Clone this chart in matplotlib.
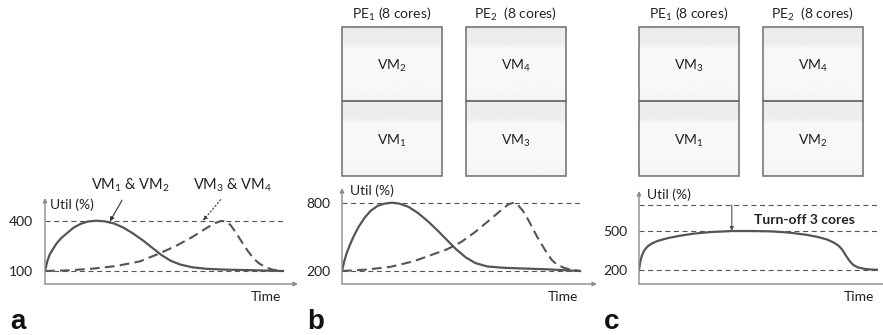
import numpy as np
import matplotlib.pyplot as plt

plt.rcParams['font.family'] = ['Lato', 'DejaVu Sans']
plt.rcParams['mathtext.fontset'] = 'custom'
plt.rcParams['mathtext.rm'] = 'Lato'
plt.rcParams['mathtext.it'] = 'Lato:italic'
plt.rcParams['mathtext.bf'] = 'Lato:bold'
plt.rcParams['lines.scale_dashes'] = False

# --- panel a: util (%) vs time (0..100) ---
a_t_solid = [0, 1, 2, 3.5, 5, 7, 9.5, 12, 15, 18, 21.5, 25, 29, 33, 37, 41, 45, 49, 53, 57, 62, 68, 76, 86, 100]
a_u_solid = [100, 160, 200, 235, 268, 300, 330, 360, 383, 397, 402, 398, 385, 360, 325, 285, 240, 195, 160, 138, 122, 113, 108, 105, 100]
a_t_dash = [0, 10, 20, 30, 40, 48, 55, 62, 67, 71, 74, 76, 78, 80, 82, 84, 86, 88, 90, 93, 96, 100]
a_u_dash = [100, 104, 114, 130, 158, 205, 250, 305, 350, 385, 400, 398, 375, 335, 290, 245, 205, 170, 145, 120, 107, 100]
a_levels = [100, 400]

# --- panel b ---
b_t_solid = [0, 1, 2, 3.5, 5, 7, 9.5, 12, 15, 18, 21, 24, 28, 32, 36, 40, 44, 48, 52, 56, 61, 68, 76, 86, 100]
b_u_solid = [200, 290, 360, 440, 510, 590, 670, 730, 775, 795, 802, 795, 765, 710, 640, 560, 475, 390, 320, 270, 240, 228, 222, 215, 200]
b_t_dash = [0, 10, 20, 30, 38, 44, 50, 56, 62, 67, 70, 72, 74, 76, 78, 80, 82, 84, 86, 88, 90, 93, 96, 100]
b_u_dash = [200, 212, 235, 285, 345, 390, 455, 545, 650, 740, 790, 800, 780, 730, 660, 580, 500, 430, 360, 300, 260, 230, 212, 200]
b_levels = [200, 800]

# --- panel c ---
c_t = [0, 0.5, 1.2, 2.2, 3.5, 5.5, 8, 12, 17, 23, 30, 39, 48, 56, 63, 70, 75, 79, 82, 84, 85.5, 87, 88.5, 90, 92, 95, 98, 100]
c_u = [200, 260, 310, 350, 380, 405, 425, 445, 463, 480, 492, 500, 500, 497, 488, 472, 455, 435, 410, 385, 355, 310, 270, 240, 220, 208, 203, 202]
c_levels = [200, 500, 700]
c_ticks = [200, 500]

pe_names = [r'PE$_1$ (8 cores)', r'PE$_2$  (8 cores)']
vm_cores = [4, 4]
b_vms = [[r'VM$_1$', r'VM$_2$'], [r'VM$_3$', r'VM$_4$']]   # bottom -> top, per PE
c_vms = [[r'VM$_1$', r'VM$_3$'], [r'VM$_2$', r'VM$_4$']]

W, H = 883, 335
fig = plt.figure(figsize=(W / 100, H / 100), dpi=100)
PT = 0.72  # points per pixel


def px_axes(x0, y0, x1, y1):
    return fig.add_axes([x0 / W, 1 - y1 / H, (x1 - x0) / W, (y1 - y0) / H])


LINE = '#555555'
AXC = '#8a8a8a'


def util_panel(ax, xmax, ylim, levels, ticks, curves, util_off):
    ax.set_xlim(0, xmax)
    ax.set_ylim(*ylim)
    for v in levels:
        ax.plot([0, 100], [v, v], color=LINE, lw=0.8, dashes=(3.6, 2.6))
    for t, u, dashed in curves:
        if dashed:
            ax.plot(t, u, color=LINE, lw=1.5, dashes=(7, 3.8), solid_capstyle='butt')
        else:
            ax.plot(t, u, color=LINE, lw=1.6)
    for s in ax.spines.values():
        s.set_visible(False)
    ax.set_xticks([])
    ax.set_yticks(ticks)
    ax.tick_params(axis='y', length=0, pad=8.5, labelsize=10, labelcolor='#222222')
    ax.patch.set_alpha(0)
    arrow = dict(arrowstyle='-|>', color=AXC, lw=1.0, mutation_scale=6, shrinkA=0, shrinkB=0)
    ax.annotate('', xy=(1, 0), xytext=(0, 0), xycoords='axes fraction', arrowprops=arrow)
    ax.annotate('', xy=(0, 1), xytext=(0, 0), xycoords='axes fraction', arrowprops=arrow)
    ax.annotate('Util (%)', xy=(0, 1), xycoords='axes fraction',
                xytext=(util_off[0] * PT, -util_off[1] * PT), textcoords='offset points',
                ha='left', va='center', fontsize=10, color='#222222')
    ax.annotate('Time', xy=(99, ylim[0]), xytext=(0, -13 * PT), textcoords='offset points',
                ha='right', va='center', fontsize=10, color='#222222')


ax_a = px_axes(45, 198, 298, 284)
util_panel(ax_a, 106.3, (22, 538), a_levels, a_levels,
           [(a_t_solid, a_u_solid, False), (a_t_dash, a_u_dash, True)], (5, 7))
ax_a.annotate(r'VM$_1$ & VM$_2$', xy=(27.3, 398), xytext=(36, 616), ha='center', va='center',
              fontsize=10.5, color='#222222', annotation_clip=False,
              arrowprops=dict(arrowstyle='-|>', color='#333333', lw=0.8, mutation_scale=6,
                              shrinkA=3, shrinkB=0))
ax_a.annotate(r'VM$_3$ & VM$_4$', xy=(66.4, 402), xytext=(79, 616), ha='center', va='center',
              fontsize=10.5, color='#222222', annotation_clip=False,
              arrowprops=dict(arrowstyle='-|>', color='#333333', lw=0.8, ls=':', mutation_scale=6,
                              shrinkA=3, shrinkB=0))

ax_b = px_axes(342, 188, 597, 284)
util_panel(ax_b, 107.1, (85.3, 932), b_levels, b_levels,
           [(b_t_solid, b_u_solid, False), (b_t_dash, b_u_dash, True)], (8, 3))

ax_c = px_axes(639, 191, 890, 284)
util_panel(ax_c, 105.5, (92.3, 808), c_levels, c_ticks, [(c_t, c_u, False)], (8, 4))
ax_c.annotate('', xy=(39, 500), xytext=(39, 700),
              arrowprops=dict(arrowstyle='-|>', color=LINE, lw=0.8, mutation_scale=6,
                              shrinkA=0, shrinkB=0))
ax_c.text(69.7, 585, 'Turn-off 3 cores', ha='center', va='center', fontsize=10,
          fontweight='bold', color='#222222')

# --- PE boxes ---
grad_pos = [0, 0.22, 0.3, 0.8, 1]
grad_val = [0.925, 0.928, 0.972, 0.97, 0.955]
grad = np.interp(np.linspace(0, 1, 100), grad_pos, grad_val)[:, None]


def pe_panel(ax, vms):
    w = 100 / 124
    for i, names in enumerate(vms):
        bottom = 0
        for name, cores in zip(names, vm_cores):
            ax.imshow(grad, cmap='gray', vmin=0, vmax=1, aspect='auto',
                      extent=(i - w / 2, i + w / 2, bottom, bottom + cores), zorder=1)
            ax.bar(i, cores, bottom=bottom, width=w, facecolor='none',
                   edgecolor='#6e6e6e', lw=1.1, zorder=2)
            ax.text(i, bottom + cores / 2 - 0.08, name, ha='center', va='center',
                    fontsize=10, color='#222222', zorder=3)
            bottom += cores
        ax.annotate(pe_names[i], xy=(i, sum(vm_cores)), xytext=(0, 12 * PT),
                    textcoords='offset points', ha='center', va='center',
                    fontsize=10, color='#222222')
    ax.set_xlim(-w / 2 - 0.01, 1 + w / 2 + 0.01)
    ax.set_ylim(-0.03, sum(vm_cores) + 0.03)
    ax.axis('off')


pe_panel(px_axes(341, 26, 567, 177), b_vms)
pe_panel(px_axes(638, 26, 864, 177), c_vms)

for x, lab in [(10, 'a'), (307, 'b'), (604, 'c')]:
    fig.text(x / W, 1 - 329 / H, lab, fontfamily='Liberation Sans', fontweight='bold',
             fontsize=20, ha='left', va='baseline', color='#111111')

fig.savefig('out.png', dpi=100)
